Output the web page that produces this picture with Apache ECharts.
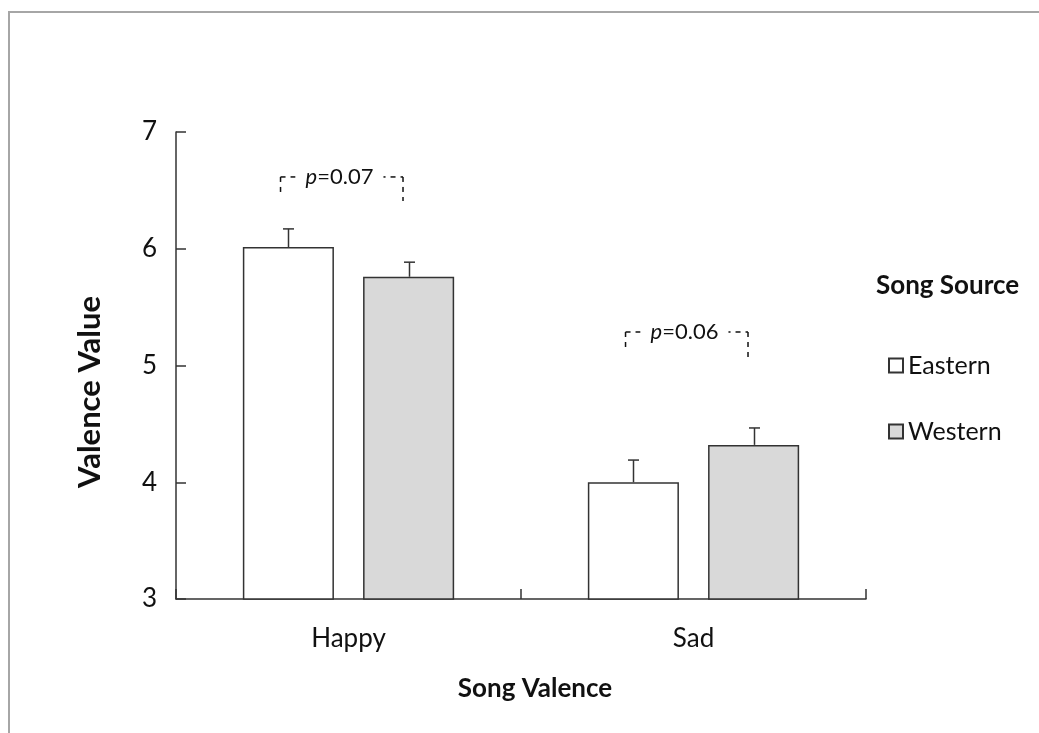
<!DOCTYPE html>
<html><head><meta charset="utf-8">
<script src="https://cdn.jsdelivr.net/npm/echarts@6/dist/echarts.min.js"></script>
<style>html,body{margin:0;padding:0;background:#fff}#c{width:1039px;height:733px}</style>
</head><body><div id="c"></div>
<script>
// ---- data ----
const categories = ['Happy', 'Sad'];
const seriesNames = ['Eastern', 'Western'];
const easternMeans = [6.015, 4.00];
const westernMeans = [5.76, 4.32];
const easternErr = [0.155, 0.19];
const westernErr = [0.125, 0.145];
const yMin = 3, yMax = 7, yStep = 1;
const bracketTop = [6.615, 5.287];
const bracketLeftEnd = [6.478, 5.158];
const bracketRightEnd = [6.409, 5.056];
const pValues = ['0.07', '0.06'];
const xTitle = 'Song Valence';
const yTitle = 'Valence Value';
const legendTitle = 'Song Source';

// ---- chart ----
const FONT = 'Lato';
const INK = '#111';
const chart = echarts.init(document.getElementById('c'), null, {renderer: 'canvas'});

function errRender(side) {
  return function (params, api) {
    const i = api.value(0), v = api.value(1), e = api.value(2);
    const band = api.size([1, 0])[0];
    const off = side * band * 0.1742;
    const p0 = api.coord([i, v]);
    const p1 = api.coord([i, v + e]);
    const x = Math.round(p0[0] + off) + 0.5;
    const st = {stroke: '#333', lineWidth: 1.5};
    return {type: 'group', children: [
      {type: 'line', shape: {x1: x, y1: p0[1], x2: x, y2: p1[1]}, style: st},
      {type: 'line', shape: {x1: x - 5.5, y1: p1[1], x2: x + 5.5, y2: p1[1]}, style: st}
    ]};
  };
}

function bracketRender(params, api) {
  const i = api.value(0);
  const top = api.value(1), lEnd = api.value(2), rEnd = api.value(3);
  const band = api.size([1, 0])[0];
  const c = api.coord([i, top]);
  const xl = c[0] - band * 0.197;
  const xr = c[0] + band * 0.158;
  const yt = c[1];
  const yl = api.coord([i, lEnd])[1];
  const yr = api.coord([i, rEnd])[1];
  const st = {stroke: '#111', lineWidth: 1.5, lineDash: [5, 5]};
  return {type: 'group', children: [
    {type: 'line', shape: {x1: xl, y1: yt, x2: xr, y2: yt}, style: st},
    {type: 'line', shape: {x1: xl, y1: yt, x2: xl, y2: yl}, style: st},
    {type: 'line', shape: {x1: xr, y1: yt, x2: xr, y2: yr}, style: st},
    {type: 'text', x: c[0] - band * 0.026, y: yt, style: {
      text: '{i|p}=' + pValues[i], fill: INK, fontFamily: FONT, fontSize: 22,
      align: 'center', verticalAlign: 'middle', backgroundColor: '#fff', padding: [0, 10],
      rich: {i: {fontStyle: 'italic', fontFamily: FONT, fontSize: 22, fill: INK}}
    }}
  ]};
}

const option = {
  backgroundColor: '#fff',
  animation: false,
  graphic: [{
    type: 'rect', shape: {x: 9, y: 12, width: 1200, height: 900},
    style: {fill: 'none', stroke: '#a6a6a6', lineWidth: 2}, silent: true, z: -1
  }, {
    type: 'text', x: 90, y: 392, rotation: Math.PI / 2,
    style: {text: yTitle, fontFamily: FONT, fontWeight: 'bold', fontSize: 31, fill: INK,
      align: 'center', verticalAlign: 'middle'}
  }],
  title: {
    text: legendTitle, left: 871, top: 268,
    textStyle: {fontFamily: FONT, fontWeight: 'bold', fontSize: 26, color: INK}
  },
  legend: {
    data: seriesNames, orient: 'vertical', left: 883, top: 348,
    itemWidth: 14, itemHeight: 14, itemGap: 41,
    icon: 'rect',
    textStyle: {fontFamily: FONT, fontSize: 25, color: INK, padding: [0, 0, 0, 0]}
  },
  grid: {left: 176, right: 173, top: 132, bottom: 134, containLabel: false},
  xAxis: {
    type: 'category', data: categories,
    name: xTitle, nameLocation: 'middle', nameGap: 77,
    nameTextStyle: {fontFamily: FONT, fontWeight: 'bold', fontSize: 26, color: INK, padding: [0, 0, 0, 28]},
    axisLine: {lineStyle: {color: '#333', width: 1.5}},
    axisTick: {show: true, interval: 0, inside: true, length: 10, lineStyle: {color: '#333', width: 1.5}},
    axisLabel: {fontFamily: FONT, fontSize: 26, color: INK, margin: 27},
    splitLine: {show: false}
  },
  yAxis: {
    type: 'value', min: yMin, max: yMax, interval: yStep,
    axisLine: {show: true, lineStyle: {color: '#333', width: 1.5}},
    axisTick: {show: true, inside: true, length: 10, lineStyle: {color: '#333', width: 1.5}},
    axisLabel: {fontFamily: FONT, fontSize: 26, color: INK, margin: 19},
    splitLine: {show: false}
  },
  series: [
    {
      name: seriesNames[0], type: 'bar', data: easternMeans,
      barWidth: '26.4%', barGap: '32%',
      itemStyle: {color: '#ffffff', borderColor: '#333', borderWidth: 1.5}
    },
    {
      name: seriesNames[1], type: 'bar', data: westernMeans,
      barWidth: '26.4%', barGap: '32%',
      itemStyle: {color: '#d9d9d9', borderColor: '#333', borderWidth: 1.5}
    },
    {
      name: 'errE', type: 'custom', renderItem: errRender(-1), z: 5,
      data: categories.map((c, i) => [i, easternMeans[i], easternErr[i]])
    },
    {
      name: 'errW', type: 'custom', renderItem: errRender(1), z: 5,
      data: categories.map((c, i) => [i, westernMeans[i], westernErr[i]])
    },
    {
      name: 'brackets', type: 'custom', renderItem: bracketRender, z: 6,
      data: categories.map((c, i) => [i, bracketTop[i], bracketLeftEnd[i], bracketRightEnd[i]])
    }
  ]
};
chart.setOption(option);
</script>
</body></html>
